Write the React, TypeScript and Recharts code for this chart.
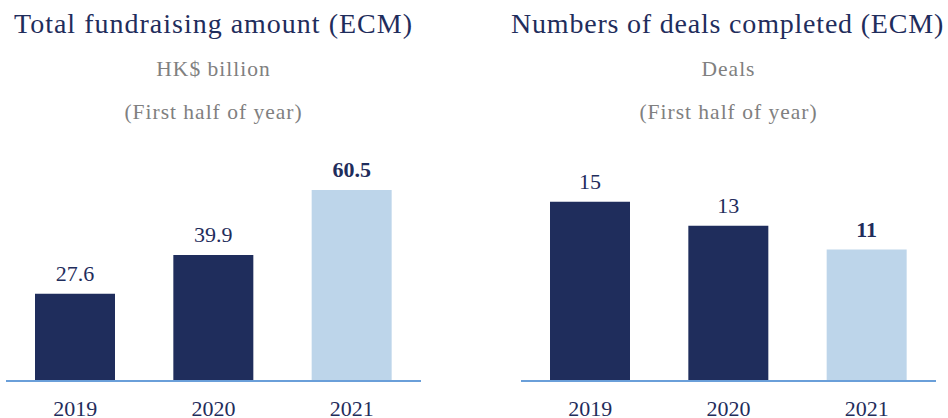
import React from "react";
import { BarChart, Bar, XAxis, YAxis, Cell, LabelList } from "recharts";

const years = ["2019", "2020", "2021"];
const fundraisingAmount = [27.6, 39.9, 60.5];
const dealsCompleted = [15, 13, 11];

const leftTitle = "Total fundraising amount (ECM)";
const leftUnit = "HK$ billion";
const rightTitle = "Numbers of deals completed (ECM)";
const rightUnit = "Deals";
const periodNote = "(First half of year)";

const NAVY = "#1f2d5c";
const LIGHT = "#bdd5ea";
const AXIS = "#6a9fd9";
const GRAY = "#808080";
const FONT = '"Liberation Serif", "Times New Roman", serif';

const highlightIndex = years.length - 1;

type Row = { year: string; value: number };

const leftData: Row[] = years.map((y, i) => ({ year: y, value: fundraisingAmount[i] }));
const rightData: Row[] = years.map((y, i) => ({ year: y, value: dealsCompleted[i] }));

const renderValueLabel = (props: any) => {
  const { x, y, width, value, index } = props;
  return (
    <text
      x={Number(x) + Number(width) / 2}
      y={Number(y) - 13}
      textAnchor="middle"
      fill={NAVY}
      fontFamily={FONT}
      fontSize={22}
      fontWeight={index === highlightIndex ? "bold" : "normal"}
    >
      {value}
    </text>
  );
};

function Panel({
  data,
  left,
  margin,
  domain,
}: {
  data: Row[];
  left: number;
  margin: { top: number; right: number; bottom: number; left: number };
  domain: [number, number];
}) {
  return (
    <div style={{ position: "absolute", left, top: 0 }}>
      <BarChart width={474} height={418} data={data} margin={margin} barCategoryGap={0}>
        <YAxis hide domain={domain} />
        <XAxis
          dataKey="year"
          height={37}
          axisLine={{ stroke: AXIS, strokeWidth: 2 }}
          tickLine={false}
          tickMargin={13}
          tick={{ fill: NAVY, fontSize: 22, fontFamily: FONT }}
          interval={0}
        />
        <Bar dataKey="value" barSize={80} isAnimationActive={false}>
          {data.map((d, i) => (
            <Cell key={d.year} fill={i === highlightIndex ? LIGHT : NAVY} />
          ))}
          <LabelList dataKey="value" content={renderValueLabel} />
        </Bar>
      </BarChart>
    </div>
  );
}

export default function App() {
  return (
    <div
      style={{
        position: "absolute",
        left: 0,
        top: 0,
        width: 948,
        height: 418,
        background: "#ffffff",
        overflow: "hidden",
        fontFamily: FONT,
      }}
    >
      <svg width={948} height={418} style={{ position: "absolute", left: 0, top: 0 }}>
        <text x={14} y={33} fill={NAVY} fontSize={28} letterSpacing={1} fontFamily={FONT}>
          {leftTitle}
        </text>
        <text x={213.5} y={76} textAnchor="middle" fill={GRAY} fontSize={21.5} letterSpacing={1} fontFamily={FONT}>
          {leftUnit}
        </text>
        <text x={213.5} y={119} textAnchor="middle" fill={GRAY} fontSize={21.5} letterSpacing={1} fontFamily={FONT}>
          {periodNote}
        </text>
        <text x={511} y={33} fill={NAVY} fontSize={28} letterSpacing={0.8} fontFamily={FONT}>
          {rightTitle}
        </text>
        <text x={728.5} y={76} textAnchor="middle" fill={GRAY} fontSize={21.5} letterSpacing={1} fontFamily={FONT}>
          {rightUnit}
        </text>
        <text x={728.5} y={119} textAnchor="middle" fill={GRAY} fontSize={21.5} letterSpacing={1} fontFamily={FONT}>
          {periodNote}
        </text>
      </svg>
      <Panel
        data={leftData}
        left={0}
        margin={{ top: 160, right: 53, bottom: 0, left: 6 }}
        domain={[0, 70]}
      />
      <Panel
        data={rightData}
        left={474}
        margin={{ top: 160, right: 12, bottom: 0, left: 47 }}
        domain={[0, 18.5]}
      />
    </div>
  );
}
